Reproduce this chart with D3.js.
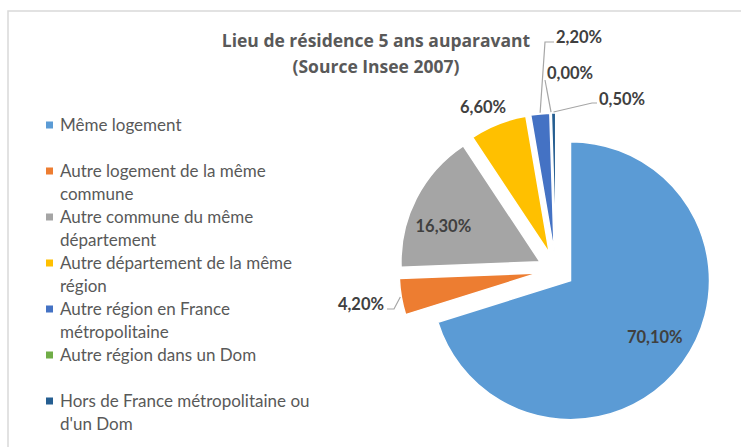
<!DOCTYPE html>
<html>
<head>
<meta charset="utf-8">
<script src="https://cdn.jsdelivr.net/npm/d3@7"></script>
<style>
  body { margin: 0; background: #fff; }
  text { font-family: Lato, "Open Sans", sans-serif; }
  .title { font-family: "Open Sans", Lato, sans-serif; }
</style>
</head>
<body>
<svg id="chart"></svg>
<script>
// DATA
var categories = [
  "Même logement",
  "Autre logement de la même commune",
  "Autre commune du même département",
  "Autre département de la même région",
  "Autre région en France métropolitaine",
  "Autre région dans un Dom",
  "Hors de France métropolitaine ou d'un Dom"
];
var legendLines = [
  ["Même logement"],
  ["Autre logement de la même", "commune"],
  ["Autre commune du même", "département"],
  ["Autre département de la même", "région"],
  ["Autre région en France", "métropolitaine"],
  ["Autre région dans un Dom"],
  ["Hors de France métropolitaine ou", "d'un Dom"]
];
var values = [70.1, 4.2, 16.3, 6.6, 2.2, 0.0, 0.5];
var valueLabels = ["70,10%", "4,20%", "16,30%", "6,60%", "2,20%", "0,00%", "0,50%"];
var colors = ["#5B9BD5", "#ED7D31", "#A5A5A5", "#FFC000", "#4472C4", "#70AD47", "#255E91"];
var titleLines = ["Lieu de résidence 5 ans auparavant", "(Source Insee 2007)"];

// SIZING
var width = 741;
var height = 447;
var cx = 556, cy = 270;
var radius = 139;
var explode = 18;

// label layout: inside labels use radius factor + angle nudge, outside ones an anchor + leader elbow
var labelLayout = [
  { inside: true, k: 0.73, da: -2.5 },
  { inside: false, x: 384, y: 304, anchor: "end", leader: [[394, 309], [387, 309]] },
  { inside: true, k: 0.74, da: -7 },
  { inside: false, x: 483, y: 107, anchor: "middle", leader: null },
  { inside: false, x: 556, y: 37, anchor: "start", leader: [[545, 42], [554, 42]] },
  { inside: false, x: 547, y: 73, anchor: "start", leader: [[545, 80]] },
  { inside: false, x: 599, y: 99, anchor: "start", leader: [[592, 103], [597, 103]] }
];

var svg = d3.select("#chart")
  .attr("width", width)
  .attr("height", height);

// FRAME (only top and left edges are visible)
svg.append("path")
  .attr("d", "M8," + (height + 2) + "V11H" + (width + 2))
  .attr("fill", "none")
  .attr("stroke", "#D9D9D9")
  .attr("stroke-width", 1.5);

// TITLE
svg.append("g").selectAll("text")
  .data(titleLines)
  .enter()
  .append("text")
  .attr("class", "title")
  .attr("x", 376)
  .attr("y", (d, i) => 41 + i * 26)
  .attr("dy", "0.35em")
  .attr("text-anchor", "middle")
  .attr("font-size", 17.5)
  .attr("font-weight", "bold")
  .attr("fill", "#595959")
  .text(d => d);

// PIE
var pie = d3.pie().sort(null).value(d => d);
var arcs = pie(values);
var arc = d3.arc().innerRadius(0).outerRadius(radius);

function mid(d) { return (d.startAngle + d.endAngle) / 2; }
function offset(d) {
  var a = mid(d);
  return [explode * Math.sin(a), -explode * Math.cos(a)];
}

var slices = svg.append("g")
  .attr("transform", "translate(" + cx + "," + cy + ")");

slices.selectAll("path")
  .data(arcs)
  .enter()
  .append("path")
  .attr("d", arc)
  .attr("transform", d => "translate(" + offset(d) + ")")
  .attr("fill", (d, i) => colors[i])
  .attr("stroke", "#fff")
  .attr("stroke-width", 1.5);

// LABELS
var labels = svg.append("g");
arcs.forEach(function(d, i) {
  var lay = labelLayout[i];
  var off = offset(d);
  if (lay.inside) {
    var a = mid(d) + lay.da * Math.PI / 180;
    var r = radius * lay.k;
    labels.append("text")
      .attr("x", cx + off[0] + r * Math.sin(a))
      .attr("y", cy + off[1] - r * Math.cos(a))
      .attr("dy", "0.35em")
      .attr("text-anchor", "middle")
      .attr("font-size", 16.5)
      .attr("font-weight", "bold")
      .attr("fill", "#404040")
      .text(valueLabels[i]);
  } else {
    if (lay.leader) {
      var a2 = mid(d);
      var start = [cx + off[0] + (radius + 1) * Math.sin(a2), cy + off[1] - (radius + 1) * Math.cos(a2)];
      var pts = [start].concat(lay.leader);
      labels.append("path")
        .attr("d", d3.line()(pts))
        .attr("fill", "none")
        .attr("stroke", "#A6A6A6")
        .attr("stroke-width", 1.2);
    }
    labels.append("text")
      .attr("x", lay.x)
      .attr("y", lay.y)
      .attr("dy", "0.35em")
      .attr("text-anchor", lay.anchor)
      .attr("font-size", 16.5)
      .attr("font-weight", "bold")
      .attr("fill", "#404040")
      .text(valueLabels[i]);
  }
});

// LEGEND
var legend = svg.append("g");
var legendTop = 125;
var slot = 46;
var lineH = 23;
legendLines.forEach(function(lines, i) {
  var y0 = legendTop + i * slot;
  legend.append("rect")
    .attr("x", 46)
    .attr("y", y0 - 3.5)
    .attr("width", 7)
    .attr("height", 7)
    .attr("fill", colors[i]);
  lines.forEach(function(t, j) {
    legend.append("text")
      .attr("x", 60)
      .attr("y", y0 + j * lineH)
      .attr("dy", "0.35em")
      .attr("font-size", 17)
      .attr("fill", "#595959")
      .text(t);
  });
});
</script>
</body>
</html>
